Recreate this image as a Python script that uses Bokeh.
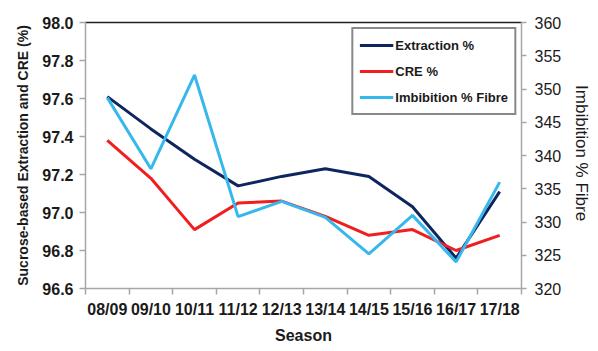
import numpy as np
from bokeh.plotting import figure
from bokeh.models import (Range1d, LinearAxis, FixedTicker, PrintfTickFormatter,
                          Legend, LegendItem, ColumnDataSource)
from bokeh.embed import file_html
from bokeh.resources import INLINE

seasons = ["08/09", "09/10", "10/11", "11/12", "12/13", "13/14", "14/15", "15/16", "16/17", "17/18"]
extraction = [97.61, 97.44, 97.28, 97.14, 97.19, 97.23, 97.19, 97.03, 96.76, 97.11]
cre = [97.38, 97.18, 96.91, 97.05, 97.06, 96.98, 96.88, 96.91, 96.80, 96.88]
imbibition = [348.7, 338.0, 352.1, 330.8, 333.1, 330.7, 325.2, 331.0, 324.0, 336.0]
left_ticks = [96.6, 96.8, 97.0, 97.2, 97.4, 97.6, 97.8, 98.0]
right_ticks = [320, 325, 330, 335, 340, 345, 350, 355, 360]

n = len(seasons)
x = list(np.arange(n) + 0.5)
centers = list(np.arange(n) + 0.5)
bounds = list(np.arange(n + 1).astype(float))

src = ColumnDataSource(dict(x=x, ext=extraction, cre=cre, imb=imbibition))

FONT = "Liberation Sans"
AXIS_GRAY = "#a6a6a6"

p = figure(frame_width=436, frame_height=266,
           x_range=Range1d(0, n), y_range=Range1d(96.6, 98.0),
           output_backend="svg", toolbar_location=None,
           min_border_left=85, min_border_right=77, min_border_top=22, min_border_bottom=63,
           background_fill_color="white", border_fill_color="white")
p.outline_line_color = None
p.xgrid.visible = False
p.ygrid.visible = False
p.extra_y_ranges = {"imb": Range1d(320, 360)}

# bottom axis
xa = p.xaxis[0]
xa.ticker = FixedTicker(ticks=centers, minor_ticks=bounds)
xa.major_label_overrides = {c: s for c, s in zip(centers, seasons)}
xa.major_tick_line_color = None
xa.minor_tick_line_color = AXIS_GRAY
xa.minor_tick_line_width = 1.5
xa.minor_tick_in = 0
xa.minor_tick_out = 6
xa.axis_line_color = AXIS_GRAY
xa.axis_line_width = 1.5
xa.major_label_text_font = FONT
xa.major_label_text_font_style = "bold"
xa.major_label_text_font_size = "16px"
xa.major_label_text_color = "#1a1a1a"
xa.major_label_standoff = 6
xa.axis_label = "Season"
xa.axis_label_text_font = FONT
xa.axis_label_text_font_style = "bold"
xa.axis_label_text_font_size = "16px"
xa.axis_label_text_color = "#1a1a1a"
xa.axis_label_standoff = 6

# left axis
ya = p.yaxis[0]
ya.ticker = FixedTicker(ticks=left_ticks)
ya.formatter = PrintfTickFormatter(format="%.1f")
ya.minor_tick_line_color = None
ya.major_tick_line_color = AXIS_GRAY
ya.major_tick_line_width = 1.5
ya.major_tick_in = 0
ya.major_tick_out = 6
ya.axis_line_color = AXIS_GRAY
ya.axis_line_width = 1.5
ya.major_label_text_font = FONT
ya.major_label_text_font_style = "bold"
ya.major_label_text_font_size = "16px"
ya.major_label_text_color = "#1a1a1a"
ya.major_label_standoff = 6
ya.axis_label = "Sucrose-based Extraction and CRE (%)"
ya.axis_label_text_font = FONT
ya.axis_label_text_font_style = "bold"
ya.axis_label_text_font_size = "14px"
ya.axis_label_text_color = "#1a1a1a"
ya.axis_label_standoff = 8

# right axis
ra = LinearAxis(y_range_name="imb", ticker=FixedTicker(ticks=right_ticks))
ra.minor_tick_line_color = None
ra.major_tick_line_color = AXIS_GRAY
ra.major_tick_line_width = 1.5
ra.major_tick_in = 0
ra.major_tick_out = 5
ra.axis_line_color = AXIS_GRAY
ra.axis_line_width = 1.5
ra.major_label_text_font = FONT
ra.major_label_text_font_size = "16px"
ra.major_label_text_color = "#1a1a1a"
ra.major_label_standoff = 8
ra.axis_label = "Imbibition  % Fibre"
ra.axis_label_text_font = FONT
ra.axis_label_text_font_style = "normal"
ra.axis_label_text_font_size = "17px"
ra.axis_label_text_color = "#1a1a1a"
ra.axis_label_standoff = 8
p.add_layout(ra, "right")

# top border line
ta = LinearAxis(ticker=FixedTicker(ticks=[]))
ta.axis_line_color = "#222222"
ta.axis_line_width = 1.5
ta.major_tick_line_color = None
ta.minor_tick_line_color = None
ta.major_label_text_font_size = "0px"
p.add_layout(ta, "above")

r_ext = p.line("x", "ext", source=src, line_color="#0f2560", line_width=3)
r_cre = p.line("x", "cre", source=src, line_color="#f01e1e", line_width=3)
r_imb = p.line("x", "imb", source=src, y_range_name="imb", line_color="#36b8ec", line_width=3)

legend = Legend(items=[LegendItem(label="Extraction %", renderers=[r_ext]),
                       LegendItem(label="CRE %", renderers=[r_cre]),
                       LegendItem(label="Imbibition % Fibre", renderers=[r_imb])],
                location="top_right", margin=5, padding=6, spacing=6,
                glyph_width=34, glyph_height=20, label_height=20, label_standoff=2,
                label_text_font=FONT, label_text_font_style="bold",
                label_text_font_size="13px", label_text_color="#1a1a1a",
                border_line_color="#111111", border_line_width=2,
                background_fill_color="white", background_fill_alpha=1)
p.add_layout(legend, "center")

open("out.html", "w").write(file_html(p, INLINE))
